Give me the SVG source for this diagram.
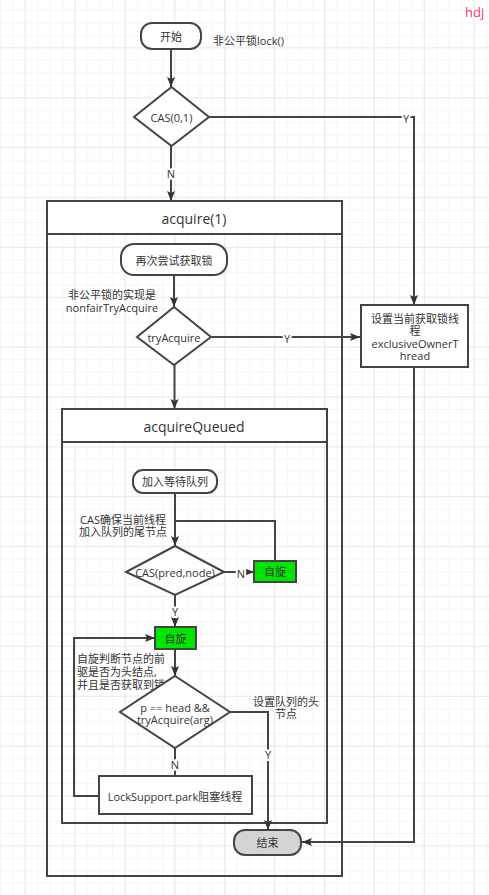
<svg xmlns="http://www.w3.org/2000/svg" width="489" height="895" viewBox="0 0 489 895">
<defs>
<pattern id="minor" patternUnits="userSpaceOnUse" x="0" y="10" width="12.47" height="12.47">
<path d="M0 0H12.47M0 0V12.47" fill="none" stroke="#ebebeb" stroke-width="1"/>
</pattern>
<pattern id="major" patternUnits="userSpaceOnUse" x="24.7" y="47.3" width="49.88" height="49.88">
<path d="M0 0H49.88M0 0V49.88" fill="none" stroke="#e0e0e0" stroke-width="1.2"/>
</pattern>
<marker id="arr" viewBox="0 0 10 10" refX="10" refY="5" markerWidth="10" markerHeight="10" markerUnits="userSpaceOnUse" orient="auto">
<path d="M0 1L10 5L0 9L2 5Z" fill="#333"/>
</marker>
</defs>
<style>
text{font-family:"Open Sans","Noto Sans CJK SC",sans-serif;font-size:11px;fill:#333;}
.t{text-anchor:middle;dominant-baseline:central;}
.node{fill:#fff;stroke:#444;stroke-width:2;}
.cont{fill:none;stroke:#444;stroke-width:2;}
.head{fill:#fff;stroke:#444;stroke-width:2;}
.ln{fill:none;stroke:#444;stroke-width:2;}
.lbl{paint-order:stroke;stroke:#fff;stroke-width:4px;}
.green{fill:#00e600;stroke:#444;stroke-width:2;}
.gray{fill:#d4d4d4;stroke:#444;stroke-width:2;}
</style>
<rect width="489" height="895" fill="#fff"/>
<rect width="489" height="895" fill="url(#minor)"/>
<rect width="489" height="895" fill="url(#major)"/>

<text x="465" y="17" style="font-size:13px;fill:#f0386c">hdj</text>

<g id="acquire1">
<rect class="cont" x="47" y="201" width="295" height="675"/>
<rect class="head" x="47" y="201" width="295" height="33"/>
<text class="t" x="194" y="218" style="font-size:14px">acquire(1)</text>
</g>
<g id="acquireQueued">
<rect class="cont" x="62" y="409" width="265" height="414"/>
<rect class="head" x="62" y="409" width="265" height="33"/>
<text class="t" x="194" y="426" style="font-size:14px">acquireQueued</text>
</g>

<g id="connectors">
<path class="ln" d="M171 49V87" marker-end="url(#arr)"/>
<path class="ln" d="M209 117H414V305" marker-end="url(#arr)"/>
<path class="ln" d="M171 146V201" marker-end="url(#arr)"/>
<path class="ln" d="M174 275V307" marker-end="url(#arr)"/>
<path class="ln" d="M211 337H360" marker-end="url(#arr)"/>
<path class="ln" d="M174.5 365V409" marker-end="url(#arr)"/>
<path class="ln" d="M414 367V842H302" marker-end="url(#arr)"/>
<path class="ln" d="M175 493V546" marker-end="url(#arr)"/>
<path class="ln" d="M224 572H254" marker-end="url(#arr)"/>
<path class="ln" d="M275 561V521H175"/>
<path class="ln" d="M175 595V627" marker-end="url(#arr)"/>
<path class="ln" d="M175 649V676" marker-end="url(#arr)"/>
<path class="ln" d="M230 712H268V830" marker-end="url(#arr)"/>
<path class="ln" d="M175 748V776"/>
<path class="ln" d="M99 796H74V638H155" marker-end="url(#arr)"/>
<text class="t lbl" x="406" y="118">Y</text>
<text class="t lbl" x="171" y="173">N</text>
<text class="t lbl" x="287" y="338">Y</text>
<text class="t lbl" x="241" y="573">N</text>
<text class="t lbl" x="175" y="611">Y</text>
<text class="t lbl" x="268" y="754">Y</text>
<text class="t lbl" x="175" y="764">N</text>
</g>

<g id="start">
<rect class="node" x="141" y="23" width="60" height="26" rx="11"/>
<text class="t" x="171" y="36">开始</text>
</g>
<text x="213" y="45">非公平锁lock()</text>

<g id="cas01">
<polygon class="node" points="171.5,87 209,117 171.5,146 134,117"/>
<text class="t" x="171.5" y="117">CAS(0,1)</text>
</g>

<g id="retry">
<rect class="node" x="121" y="244" width="106" height="31" rx="13"/>
<text class="t" x="174" y="260">再次尝试获取锁</text>
</g>
<text class="t" x="112" y="294">非公平锁的实现是</text>
<text class="t" x="112" y="307">nonfairTryAcquire</text>

<g id="tryAcquire">
<polygon class="node" points="174,307 211,337 174,365 137,337"/>
<text class="t" x="174" y="337">tryAcquire</text>
</g>

<g id="setOwner">
<rect class="node" x="361" y="305" width="107" height="62"/>
<text class="t" x="415" y="318">设置当前获取锁线</text>
<text class="t" x="415" y="330">程</text>
<text class="t" x="415" y="343">exclusiveOwnerT</text>
<text class="t" x="415" y="355">hread</text>
</g>

<g id="enqueue">
<rect class="node" x="133" y="470" width="84" height="23" rx="10"/>
<text class="t" x="175" y="481.5">加入等待队列</text>
</g>
<text class="t" x="123" y="519">CAS确保当前线程</text>
<text class="t" x="123" y="531">加入队列的尾节点</text>

<g id="casPredNode">
<polygon class="node" points="175,546 224,572 175,595 126,572"/>
<text class="t" x="175" y="572">CAS(pred,node)</text>
</g>

<g id="spin1">
<rect class="green" x="254" y="561" width="42" height="21"/>
<text class="t" x="275" y="571.5">自旋</text>
</g>

<g id="spin2">
<rect class="green" x="155" y="627" width="41" height="22"/>
<text class="t" x="175.5" y="638">自旋</text>
</g>
<text x="77" y="663">自旋判断节点的前</text>
<text x="77" y="676">驱是否为头结点,</text>
<text x="77" y="689">并且是否获取到锁</text>

<g id="headCheck">
<polygon class="node" points="175,676 230,712 175,748 120,712"/>
<text class="t" x="175" y="707">p == head &amp;&amp;</text>
<text class="t" x="175" y="719">tryAcquire(arg)</text>
</g>
<text class="t" x="286" y="701">设置队列的头</text>
<text class="t" x="286" y="713">节点</text>

<g id="park">
<rect class="node" x="99" y="776" width="153" height="38"/>
<text class="t" x="175" y="796">LockSupport.park阻塞线程</text>
</g>

<g id="end">
<rect class="gray" x="234" y="830" width="67" height="25" rx="11"/>
<text class="t" x="267.5" y="842.5">结束</text>
</g>
</svg>
